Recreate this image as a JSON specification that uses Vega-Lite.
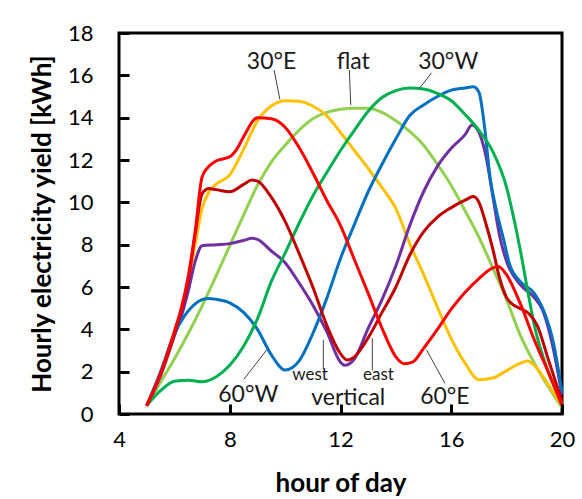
{
  "$schema": "https://vega.github.io/schema/vega-lite/v6.json",
  "width": 443,
  "height": 381,
  "autosize": "none",
  "padding": {"left": 119, "top": 33, "right": 20, "bottom": 85},
  "background": "white",
  "config": {"view": {"stroke": "black", "strokeWidth": 3}, "font": "Lato"},
  "datasets": {
    "curves": [
      {"s":"flat","x":5,"y":0.35},{"s":"flat","x":5.5,"y":1.5},{"s":"flat","x":6,"y":2.6},{"s":"flat","x":6.5,"y":3.8},{"s":"flat","x":7,"y":5.1},{"s":"flat","x":7.5,"y":6.5},{"s":"flat","x":8,"y":7.95},{"s":"flat","x":8.5,"y":9.4},{"s":"flat","x":9,"y":10.8},{"s":"flat","x":9.5,"y":11.9},{"s":"flat","x":10,"y":12.7},{"s":"flat","x":10.5,"y":13.4},{"s":"flat","x":11,"y":13.95},{"s":"flat","x":11.5,"y":14.25},{"s":"flat","x":12,"y":14.4},{"s":"flat","x":12.5,"y":14.45},{"s":"flat","x":13,"y":14.45},{"s":"flat","x":13.5,"y":14.25},{"s":"flat","x":14,"y":13.85},{"s":"flat","x":14.5,"y":13.35},{"s":"flat","x":15,"y":12.7},{"s":"flat","x":15.5,"y":11.8},{"s":"flat","x":16,"y":10.8},{"s":"flat","x":16.5,"y":9.6},{"s":"flat","x":17,"y":8.35},{"s":"flat","x":17.5,"y":6.9},{"s":"flat","x":18,"y":5.4},{"s":"flat","x":18.5,"y":3.7},{"s":"flat","x":19,"y":2.4},{"s":"flat","x":19.5,"y":1.3},{"s":"flat","x":20,"y":0.3},
      {"s":"30°E","x":5,"y":0.4},{"s":"30°E","x":5.5,"y":1.8},{"s":"30°E","x":6,"y":3.7},{"s":"30°E","x":6.5,"y":6.2},{"s":"30°E","x":6.75,"y":8.0},{"s":"30°E","x":7,"y":9.7},{"s":"30°E","x":7.25,"y":10.5},{"s":"30°E","x":7.5,"y":10.85},{"s":"30°E","x":8,"y":11.3},{"s":"30°E","x":8.5,"y":12.5},{"s":"30°E","x":9,"y":13.85},{"s":"30°E","x":9.5,"y":14.55},{"s":"30°E","x":10,"y":14.8},{"s":"30°E","x":10.5,"y":14.78},{"s":"30°E","x":11,"y":14.55},{"s":"30°E","x":11.5,"y":14.1},{"s":"30°E","x":12,"y":13.3},{"s":"30°E","x":12.5,"y":12.45},{"s":"30°E","x":13,"y":11.6},{"s":"30°E","x":13.5,"y":10.7},{"s":"30°E","x":14,"y":9.7},{"s":"30°E","x":14.5,"y":8.05},{"s":"30°E","x":15,"y":6.6},{"s":"30°E","x":15.5,"y":5.05},{"s":"30°E","x":16,"y":3.55},{"s":"30°E","x":16.5,"y":2.4},{"s":"30°E","x":17,"y":1.62},{"s":"30°E","x":17.5,"y":1.7},{"s":"30°E","x":18,"y":2.05},{"s":"30°E","x":18.5,"y":2.4},{"s":"30°E","x":18.75,"y":2.5},{"s":"30°E","x":19,"y":2.3},{"s":"30°E","x":19.5,"y":1.4},{"s":"30°E","x":20,"y":0.4},
      {"s":"vertical west","x":5,"y":0.4},{"s":"vertical west","x":5.5,"y":1.8},{"s":"vertical west","x":6,"y":3.7},{"s":"vertical west","x":6.25,"y":4.6},{"s":"vertical west","x":6.5,"y":5.8},{"s":"vertical west","x":6.75,"y":7.2},{"s":"vertical west","x":7,"y":7.95},{"s":"vertical west","x":7.5,"y":8.0},{"s":"vertical west","x":8,"y":8.05},{"s":"vertical west","x":8.5,"y":8.2},{"s":"vertical west","x":8.8,"y":8.3},{"s":"vertical west","x":9,"y":8.25},{"s":"vertical west","x":9.5,"y":7.7},{"s":"vertical west","x":10,"y":7.15},{"s":"vertical west","x":10.5,"y":6.2},{"s":"vertical west","x":11,"y":5.15},{"s":"vertical west","x":11.5,"y":3.9},{"s":"vertical west","x":12,"y":2.45},{"s":"vertical west","x":12.15,"y":2.3},{"s":"vertical west","x":12.5,"y":2.6},{"s":"vertical west","x":13,"y":4.05},{"s":"vertical west","x":13.5,"y":5.4},{"s":"vertical west","x":14,"y":7.0},{"s":"vertical west","x":14.5,"y":8.9},{"s":"vertical west","x":15,"y":10.5},{"s":"vertical west","x":15.5,"y":11.7},{"s":"vertical west","x":16,"y":12.55},{"s":"vertical west","x":16.5,"y":13.2},{"s":"vertical west","x":16.75,"y":13.65},{"s":"vertical west","x":17,"y":13.3},{"s":"vertical west","x":17.25,"y":12.2},{"s":"vertical west","x":17.5,"y":10.3},{"s":"vertical west","x":17.75,"y":8.4},{"s":"vertical west","x":18,"y":7.2},{"s":"vertical west","x":18.5,"y":6.1},{"s":"vertical west","x":19,"y":5.5},{"s":"vertical west","x":19.3,"y":4.9},{"s":"vertical west","x":19.65,"y":3.3},{"s":"vertical west","x":20,"y":0.9},
      {"s":"60°W","x":5,"y":0.4},{"s":"60°W","x":5.5,"y":2.0},{"s":"60°W","x":6,"y":3.8},{"s":"60°W","x":6.35,"y":4.6},{"s":"60°W","x":6.75,"y":5.2},{"s":"60°W","x":7,"y":5.4},{"s":"60°W","x":7.25,"y":5.46},{"s":"60°W","x":7.5,"y":5.42},{"s":"60°W","x":8,"y":5.25},{"s":"60°W","x":8.5,"y":4.8},{"s":"60°W","x":9,"y":4.0},{"s":"60°W","x":9.5,"y":2.8},{"s":"60°W","x":10,"y":2.08},{"s":"60°W","x":10.5,"y":2.5},{"s":"60°W","x":11,"y":3.8},{"s":"60°W","x":11.5,"y":5.45},{"s":"60°W","x":12,"y":7.35},{"s":"60°W","x":12.5,"y":8.95},{"s":"60°W","x":13,"y":10.5},{"s":"60°W","x":13.5,"y":11.8},{"s":"60°W","x":14,"y":13.0},{"s":"60°W","x":14.5,"y":14.1},{"s":"60°W","x":15,"y":14.6},{"s":"60°W","x":15.5,"y":15.0},{"s":"60°W","x":16,"y":15.3},{"s":"60°W","x":16.5,"y":15.4},{"s":"60°W","x":16.8,"y":15.46},{"s":"60°W","x":17,"y":15.2},{"s":"60°W","x":17.2,"y":13.6},{"s":"60°W","x":17.4,"y":11.2},{"s":"60°W","x":17.6,"y":9.8},{"s":"60°W","x":17.9,"y":8.2},{"s":"60°W","x":18.1,"y":7.1},{"s":"60°W","x":18.5,"y":6.25},{"s":"60°W","x":19,"y":5.7},{"s":"60°W","x":19.3,"y":5.0},{"s":"60°W","x":19.7,"y":3.3},{"s":"60°W","x":20,"y":1.0},
      {"s":"30°W","x":5,"y":0.4},{"s":"30°W","x":5.5,"y":1.1},{"s":"30°W","x":6,"y":1.55},{"s":"30°W","x":6.5,"y":1.6},{"s":"30°W","x":7,"y":1.52},{"s":"30°W","x":7.5,"y":1.75},{"s":"30°W","x":8,"y":2.3},{"s":"30°W","x":8.5,"y":3.2},{"s":"30°W","x":9,"y":4.5},{"s":"30°W","x":9.5,"y":6.25},{"s":"30°W","x":10,"y":7.6},{"s":"30°W","x":10.5,"y":9.0},{"s":"30°W","x":11,"y":10.3},{"s":"30°W","x":11.5,"y":11.4},{"s":"30°W","x":12,"y":12.45},{"s":"30°W","x":12.5,"y":13.4},{"s":"30°W","x":13,"y":14.3},{"s":"30°W","x":13.5,"y":14.95},{"s":"30°W","x":14,"y":15.28},{"s":"30°W","x":14.5,"y":15.4},{"s":"30°W","x":15,"y":15.35},{"s":"30°W","x":15.5,"y":15.15},{"s":"30°W","x":16,"y":14.8},{"s":"30°W","x":16.5,"y":14.15},{"s":"30°W","x":17,"y":13.4},{"s":"30°W","x":17.5,"y":12.4},{"s":"30°W","x":18,"y":10.7},{"s":"30°W","x":18.25,"y":9.3},{"s":"30°W","x":18.5,"y":7.7},{"s":"30°W","x":18.75,"y":5.9},{"s":"30°W","x":19,"y":4.2},{"s":"30°W","x":19.5,"y":2.0},{"s":"30°W","x":20,"y":0.55},
      {"s":"vertical east","x":5,"y":0.4},{"s":"vertical east","x":5.5,"y":1.9},{"s":"vertical east","x":6,"y":3.8},{"s":"vertical east","x":6.25,"y":4.9},{"s":"vertical east","x":6.5,"y":6.3},{"s":"vertical east","x":6.75,"y":8.5},{"s":"vertical east","x":7,"y":10.4},{"s":"vertical east","x":7.25,"y":10.65},{"s":"vertical east","x":7.5,"y":10.6},{"s":"vertical east","x":8,"y":10.5},{"s":"vertical east","x":8.5,"y":10.85},{"s":"vertical east","x":8.8,"y":11.05},{"s":"vertical east","x":9,"y":11.0},{"s":"vertical east","x":9.5,"y":10.25},{"s":"vertical east","x":10,"y":9.1},{"s":"vertical east","x":10.5,"y":7.6},{"s":"vertical east","x":11,"y":6.0},{"s":"vertical east","x":11.5,"y":4.2},{"s":"vertical east","x":12,"y":2.85},{"s":"vertical east","x":12.25,"y":2.55},{"s":"vertical east","x":12.5,"y":2.7},{"s":"vertical east","x":13,"y":3.6},{"s":"vertical east","x":13.5,"y":4.8},{"s":"vertical east","x":14,"y":6.0},{"s":"vertical east","x":14.5,"y":7.5},{"s":"vertical east","x":15,"y":8.6},{"s":"vertical east","x":15.5,"y":9.3},{"s":"vertical east","x":16,"y":9.75},{"s":"vertical east","x":16.5,"y":10.1},{"s":"vertical east","x":16.8,"y":10.27},{"s":"vertical east","x":17,"y":10.0},{"s":"vertical east","x":17.25,"y":9.0},{"s":"vertical east","x":17.5,"y":7.8},{"s":"vertical east","x":17.75,"y":6.4},{"s":"vertical east","x":18,"y":5.5},{"s":"vertical east","x":18.25,"y":5.15},{"s":"vertical east","x":18.5,"y":4.98},{"s":"vertical east","x":18.85,"y":4.68},{"s":"vertical east","x":19.1,"y":4.2},{"s":"vertical east","x":19.5,"y":2.6},{"s":"vertical east","x":20,"y":0.6},
      {"s":"60°E","x":5,"y":0.4},{"s":"60°E","x":5.5,"y":1.9},{"s":"60°E","x":6,"y":3.9},{"s":"60°E","x":6.25,"y":5.0},{"s":"60°E","x":6.5,"y":6.5},{"s":"60°E","x":6.75,"y":8.6},{"s":"60°E","x":7,"y":11.2},{"s":"60°E","x":7.25,"y":11.7},{"s":"60°E","x":7.5,"y":11.95},{"s":"60°E","x":8,"y":12.15},{"s":"60°E","x":8.25,"y":12.5},{"s":"60°E","x":8.5,"y":13.1},{"s":"60°E","x":9,"y":14.0},{"s":"60°E","x":9.5,"y":13.95},{"s":"60°E","x":10,"y":13.55},{"s":"60°E","x":10.5,"y":12.6},{"s":"60°E","x":11,"y":11.4},{"s":"60°E","x":11.5,"y":10.1},{"s":"60°E","x":12,"y":8.9},{"s":"60°E","x":12.5,"y":7.3},{"s":"60°E","x":13,"y":5.7},{"s":"60°E","x":13.5,"y":4.05},{"s":"60°E","x":14,"y":2.7},{"s":"60°E","x":14.3,"y":2.37},{"s":"60°E","x":14.6,"y":2.45},{"s":"60°E","x":15,"y":3.1},{"s":"60°E","x":15.5,"y":4.0},{"s":"60°E","x":16,"y":4.95},{"s":"60°E","x":16.5,"y":5.75},{"s":"60°E","x":17,"y":6.4},{"s":"60°E","x":17.5,"y":6.9},{"s":"60°E","x":17.7,"y":6.97},{"s":"60°E","x":18,"y":6.57},{"s":"60°E","x":18.5,"y":5.2},{"s":"60°E","x":19,"y":3.5},{"s":"60°E","x":19.5,"y":2.0},{"s":"60°E","x":20,"y":0.4}
    ],
    "leaders": [
      {"x":9.6,"y":16.25,"x2":9.81,"y2":14.87},
      {"x":12.32,"y":16.25,"x2":12.37,"y2":14.6},
      {"x":15.29,"y":16.12,"x2":14.85,"y2":15.38},
      {"x":8.51,"y":1.64,"x2":9.33,"y2":3.02},
      {"x":11.38,"y":2.1,"x2":11.38,"y2":3.5},
      {"x":13.15,"y":2.05,"x2":13.15,"y2":3.58},
      {"x":15.77,"y":1.45,"x2":15.11,"y2":3.02}
    ],
    "labels": [
      {"label":"30°E","x":9.51,"y":16.64},
      {"label":"flat","x":12.46,"y":16.64},
      {"label":"30°W","x":15.89,"y":16.64},
      {"label":"60°W","x":8.67,"y":0.88},
      {"label":"vertical","x":12.28,"y":0.76},
      {"label":"60°E","x":15.77,"y":0.8}
    ],
    "small_labels": [
      {"label":"west","x":10.9,"y":1.82},
      {"label":"east","x":13.37,"y":1.82}
    ]
  },
  "layer": [
    {
      "data": {"name": "curves"},
      "mark": {"type": "line", "interpolate": "monotone", "strokeWidth": 3},
      "encoding": {
        "x": {"field": "x", "type": "quantitative",
          "scale": {"domain": [4, 20], "nice": false, "zero": false},
          "axis": {"values": [4, 8, 12, 16, 20], "grid": false, "domain": false, "ticks": true, "offset": -10, "tickSize": 10, "tickWidth": 3, "tickColor": "black", "zindex": 2,
            "labelPadding": 15, "labelFlush": false, "labelFontSize": 22, "labelFont": "Lato", "labelColor": "black",
            "title": "hour of day", "titleFontSize": 26, "titleFont": "Lato", "titleFontWeight": "bold", "titleColor": "black", "titlePadding": 20}},
        "y": {"field": "y", "type": "quantitative",
          "scale": {"domain": [0, 18], "nice": false},
          "axis": {"values": [0, 2, 4, 6, 8, 10, 12, 14, 16, 18], "grid": false, "domain": false, "ticks": true, "offset": -10, "tickSize": 10, "tickWidth": 3, "tickColor": "black", "zindex": 2,
            "labelPadding": 26, "labelFontSize": 22, "labelFont": "Lato", "labelColor": "black",
            "title": "Hourly electricity yield [kWh]", "titleFontSize": 26, "titleFont": "Lato", "titleFontWeight": "bold", "titleColor": "black", "titlePadding": 12}},
        "color": {"field": "s", "type": "nominal",
          "scale": {"domain": ["flat", "30°E", "vertical west", "60°W", "30°W", "vertical east", "60°E"],
                    "range": ["#92D050", "#FFC000", "#7030A0", "#0070C0", "#00B050", "#C00000", "#FF0000"]},
          "legend": null}
      }
    },
    {
      "data": {"name": "leaders"},
      "mark": {"type": "rule", "color": "#404040", "strokeWidth": 1},
      "encoding": {
        "x": {"field": "x", "type": "quantitative"},
        "y": {"field": "y", "type": "quantitative"},
        "x2": {"field": "x2"},
        "y2": {"field": "y2"}
      }
    },
    {
      "data": {"name": "labels"},
      "mark": {"type": "text", "fontSize": 23, "font": "Lato", "color": "#1a1a1a", "baseline": "middle", "align": "center"},
      "encoding": {
        "x": {"field": "x", "type": "quantitative"},
        "y": {"field": "y", "type": "quantitative"},
        "text": {"field": "label"}
      }
    },
    {
      "data": {"name": "small_labels"},
      "mark": {"type": "text", "fontSize": 17, "font": "Lato", "color": "#1a1a1a", "baseline": "middle", "align": "center"},
      "encoding": {
        "x": {"field": "x", "type": "quantitative"},
        "y": {"field": "y", "type": "quantitative"},
        "text": {"field": "label"}
      }
    }
  ]
}
